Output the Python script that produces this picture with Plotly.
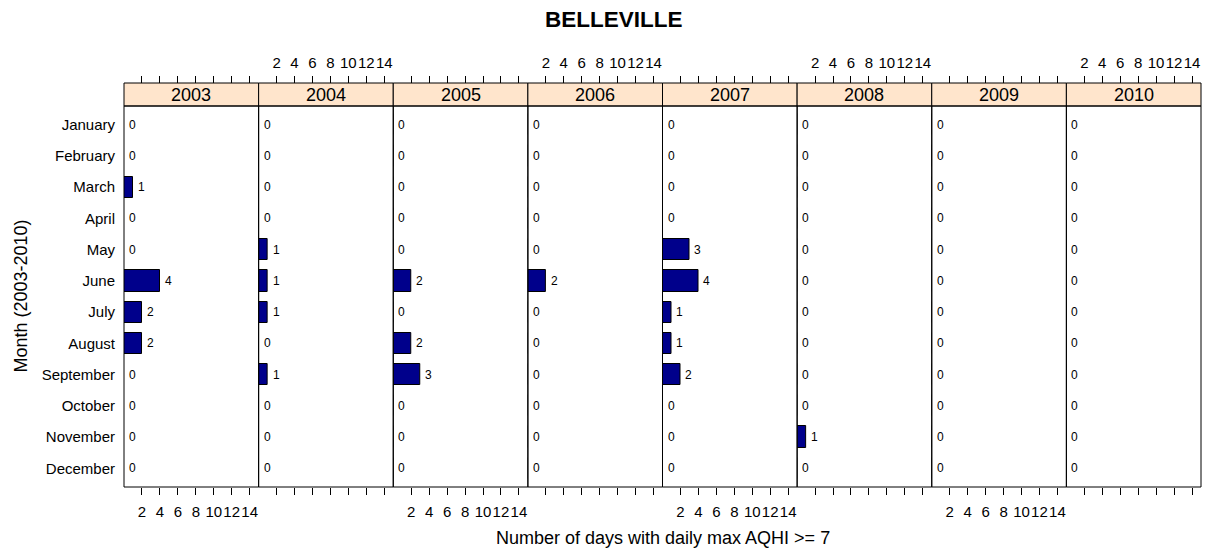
import plotly.graph_objects as go

# monthly counts of days with daily max AQHI >= 7, Belleville
months = ['January', 'February', 'March', 'April', 'May', 'June', 'July',
          'August', 'September', 'October', 'November', 'December']
years = ['2003', '2004', '2005', '2006', '2007', '2008', '2009', '2010']

days_2003 = [0, 0, 1, 0, 0, 4, 2, 2, 0, 0, 0, 0]
days_2004 = [0, 0, 0, 0, 1, 1, 1, 0, 1, 0, 0, 0]
days_2005 = [0, 0, 0, 0, 0, 2, 0, 2, 3, 0, 0, 0]
days_2006 = [0, 0, 0, 0, 0, 2, 0, 0, 0, 0, 0, 0]
days_2007 = [0, 0, 0, 0, 3, 4, 1, 1, 2, 0, 0, 0]
days_2008 = [0, 0, 0, 0, 0, 0, 0, 0, 0, 0, 1, 0]
days_2009 = [0, 0, 0, 0, 0, 0, 0, 0, 0, 0, 0, 0]
days_2010 = [0, 0, 0, 0, 0, 0, 0, 0, 0, 0, 0, 0]
all_days = [days_2003, days_2004, days_2005, days_2006,
            days_2007, days_2008, days_2009, days_2010]

tick_vals = [2, 4, 6, 8, 10, 12, 14]
x_range = [0, 15]

FONT = 'Liberation Sans, Arial, sans-serif'
BAR_COLOR = '#00008B'
STRIP_COLOR = '#FFE5CC'

W, H = 1205, 558
M_L, M_R, M_T, M_B = 124, 4, 83, 71
plot_h = H - M_T - M_B
plot_w = W - M_L - M_R
panel_top = 1 - 23 / plot_h   # strip sits above the panel

n = len(years)
fig = go.Figure()
layout = {}
shapes = []
annotations = []

for i, (yr, vals) in enumerate(zip(years, all_days)):
    k = i + 1
    xa = 'x' if k == 1 else f'x{k}'
    xt = f'x{k + n}'
    d0, d1 = i / n, (i + 1) / n

    fig.add_trace(go.Bar(
        x=vals, y=months, orientation='h', xaxis=xa, yaxis='y',
        width=0.68, marker=dict(color=BAR_COLOR, line=dict(color='black', width=1)),
        showlegend=False, hoverinfo='x+y'))
    # invisible trace so the top axis gets drawn
    fig.add_trace(go.Scatter(
        x=vals, y=months, xaxis=xt, yaxis='y', mode='markers',
        marker=dict(opacity=0), showlegend=False, hoverinfo='skip'))

    bottom_labels = (i % 2 == 0)
    layout[('xaxis' if k == 1 else f'xaxis{k}')] = dict(
        domain=[d0, d1], range=x_range, anchor='y',
        tickvals=tick_vals, ticks='outside', ticklen=7, tickcolor='black',
        showticklabels=bottom_labels, ticklabelstandoff=4, tickangle=0,
        showgrid=False, zeroline=False, showline=False,
        tickfont=dict(size=15, color='black', family=FONT))
    layout[f'xaxis{k + n}'] = dict(
        domain=[d0, d1], range=x_range, overlaying=xa, anchor='free',
        position=1, side='top',
        tickvals=tick_vals, ticks='outside', ticklen=7, tickcolor='black',
        showticklabels=not bottom_labels, ticklabelstandoff=2, tickangle=0,
        showgrid=False, zeroline=False, showline=False,
        tickfont=dict(size=15, color='black', family=FONT))

    # panel border
    shapes.append(dict(type='rect', xref='paper', yref='paper',
                       x0=d0, x1=d1, y0=0, y1=panel_top,
                       line=dict(color='black', width=1), layer='above'))
    # strip
    shapes.append(dict(type='rect', xref='paper', yref='paper',
                       x0=d0, x1=d1, y0=panel_top, y1=1,
                       fillcolor=STRIP_COLOR, line=dict(color='black', width=1),
                       layer='below'))
    annotations.append(dict(text=yr, xref='paper', yref='paper',
                            x=(d0 + d1) / 2, y=(panel_top + 1) / 2,
                            showarrow=False, xanchor='center', yanchor='middle',
                            font=dict(size=18, color='black', family=FONT)))
    # value labels next to the bars
    for m, v in zip(months, vals):
        annotations.append(dict(text=str(v), x=v, y=m, xref=xa, yref='y',
                                xanchor='left', yanchor='middle', xshift=3,
                                showarrow=False,
                                font=dict(size=12, color='black', family=FONT)))

annotations.append(dict(text='<b>BELLEVILLE</b>', xref='paper', yref='paper',
                        x=(614 - M_L) / plot_w, y=1 + (M_T - 19) / plot_h,
                        showarrow=False, xanchor='center', yanchor='middle',
                        font=dict(size=22.5, color='black', family=FONT)))
annotations.append(dict(text='Number of days with daily max AQHI >= 7',
                        xref='paper', yref='paper', x=0.5, y=-(538 - (H - M_B)) / plot_h,
                        showarrow=False, xanchor='center', yanchor='middle',
                        font=dict(size=18, color='black', family=FONT)))
annotations.append(dict(text='Month (2003-2010)', textangle=-90,
                        xref='paper', yref='paper', x=(20 - M_L) / plot_w,
                        y=panel_top / 2, showarrow=False,
                        xanchor='center', yanchor='middle',
                        font=dict(size=18, color='black', family=FONT)))

fig.update_layout(
    **layout,
    yaxis=dict(domain=[0, panel_top], anchor='x', type='category',
               categoryorder='array', categoryarray=months,
               range=[11.6, -0.6], ticks='', ticklabelstandoff=8,
               showgrid=False, zeroline=False, showline=False,
               tickfont=dict(size=15, color='black', family=FONT)),
    shapes=shapes,
    annotations=annotations,
    width=W, height=H,
    margin=dict(l=M_L, r=M_R, t=M_T, b=M_B, autoexpand=False),
    paper_bgcolor='white', plot_bgcolor='white',
    barmode='overlay', bargap=0,
    font=dict(family=FONT, color='black'),
)

# the page's default body margin would shift the figure by 8px
fig.write_html('out.html', config={'displayModeBar': False},
               post_script="document.body.style.margin='0px';")
